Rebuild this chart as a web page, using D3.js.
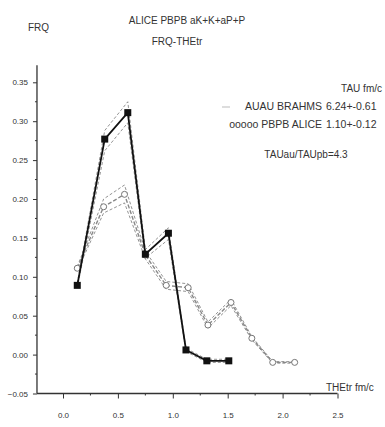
<!DOCTYPE html>
<html>
<head>
<meta charset="utf-8">
<script src="https://cdn.jsdelivr.net/npm/d3@7"></script>
<style>
  body { margin: 0; background: #fff; }
  svg { display: block; }
  text { font-family: "Liberation Sans Narrow", "Liberation Sans", Arial, sans-serif; fill: #333; }
  .axis path, .axis line { stroke: #333; }
</style>
</head>
<body>
<svg id="chart" width="385" height="427"></svg>
<script>
// THEtr (fm/c) bins and FRQ values
const thetaAuAu = [0.13, 0.38, 0.59, 0.75, 0.96, 1.12, 1.31, 1.51];
const frqAuAu = [0.089, 0.277, 0.311, 0.129, 0.156, 0.006, -0.008, -0.008];
const frqAuAuHi = [0.092, 0.288, 0.325, 0.135, 0.163, 0.008, -0.006, -0.006];
const frqAuAuLo = [0.086, 0.262, 0.298, 0.124, 0.148, 0.004, -0.010, -0.010];

const thetaPbPb = [0.13, 0.37, 0.56, 0.75, 0.94, 1.14, 1.32, 1.53, 1.72, 1.91, 2.11];
const frqPbPb = [0.111, 0.190, 0.206, 0.128, 0.089, 0.086, 0.038, 0.067, 0.021, -0.010, -0.010];
const frqPbPbHi = [0.113, 0.200, 0.218, 0.133, 0.094, 0.091, 0.042, 0.071, 0.023, -0.009, -0.009];
const frqPbPbLo = [0.108, 0.182, 0.195, 0.123, 0.084, 0.081, 0.034, 0.063, 0.019, -0.011, -0.011];

const yTicks = [-0.05, 0.00, 0.05, 0.10, 0.15, 0.20, 0.25, 0.30, 0.35];
const xTicks = [0.0, 0.5, 1.0, 1.5, 2.0, 2.5];

const svg = d3.select('#chart');

// scales, the axes cross at the lower left corner
const x = d3.scaleLinear().domain([0, 2.5]).range([63, 337.5]);
const y = d3.scaleLinear().domain([-0.05, 0.35]).range([393.5, 82.3]);
const xLeft = -0.237, yTop = 0.372;

// y axis
const yAxis = svg.append('g').attr('class', 'axis')
    .attr('transform', 'translate(' + x(xLeft) + ',0)')
    .call(d3.axisLeft(y).tickValues(yTicks).tickSize(4).tickFormat(d3.format('.2f')));
yAxis.select('.domain').remove();
yAxis.selectAll('text').attr('font-size', 8).attr('x', -9);
svg.append('g').selectAll('line')
    .data(d3.range(-0.025, 0.36, 0.05))
    .enter().append('line')
    .attr('x1', x(xLeft) - 2).attr('x2', x(xLeft))
    .attr('y1', d => y(d)).attr('y2', d => y(d))
    .attr('stroke', '#333');
svg.append('line')
    .attr('x1', x(xLeft)).attr('x2', x(xLeft))
    .attr('y1', y(-0.05)).attr('y2', y(yTop))
    .attr('stroke', '#333').attr('stroke-width', 1.3);

// x axis
const xAxis = svg.append('g').attr('class', 'axis')
    .attr('transform', 'translate(0,' + y(-0.05) + ')')
    .call(d3.axisBottom(x).tickValues(xTicks).tickSize(5).tickFormat(d3.format('.1f')));
xAxis.select('.domain').remove();
xAxis.selectAll('text').attr('font-size', 8).attr('y', 19);
svg.append('g').selectAll('line')
    .data(d3.range(0.25, 2.5, 0.5))
    .enter().append('line')
    .attr('x1', d => x(d)).attr('x2', d => x(d))
    .attr('y1', y(-0.05)).attr('y2', y(-0.05) + 2)
    .attr('stroke', '#333');
svg.append('line')
    .attr('x1', x(xLeft)).attr('x2', x(2.5))
    .attr('y1', y(-0.05)).attr('y2', y(-0.05))
    .attr('stroke', '#333').attr('stroke-width', 1.3);

const line = d3.line().x(d => x(d[0])).y(d => y(d[1]));
const pairs = (xs, ys) => xs.map((v, i) => [v, ys[i]]);

// error bands, thin dashed
[[thetaAuAu, frqAuAuHi], [thetaAuAu, frqAuAuLo], [thetaPbPb, frqPbPbHi], [thetaPbPb, frqPbPbLo]]
    .forEach(([xs, ys]) => {
        svg.append('path')
            .attr('d', line(pairs(xs, ys)))
            .attr('fill', 'none')
            .attr('stroke', '#777')
            .attr('stroke-width', 0.8)
            .attr('stroke-dasharray', '3,2');
    });

// PbPb ALICE, open circles
svg.append('path')
    .attr('d', line(pairs(thetaPbPb, frqPbPb)))
    .attr('fill', 'none')
    .attr('stroke', '#888')
    .attr('stroke-width', 1.4)
    .attr('stroke-dasharray', '4,2');
svg.selectAll('.circ')
    .data(pairs(thetaPbPb, frqPbPb))
    .enter().append('circle')
    .attr('class', 'circ')
    .attr('cx', d => x(d[0]))
    .attr('cy', d => y(d[1]))
    .attr('r', 3)
    .attr('fill', '#fff')
    .attr('stroke', '#777')
    .attr('stroke-width', 1);

// AuAu BRAHMS, black squares
svg.append('path')
    .attr('d', line(pairs(thetaAuAu, frqAuAu)))
    .attr('fill', 'none')
    .attr('stroke', '#111')
    .attr('stroke-width', 1.8);
svg.selectAll('.sq')
    .data(pairs(thetaAuAu, frqAuAu))
    .enter().append('rect')
    .attr('class', 'sq')
    .attr('x', d => x(d[0]) - 3.5)
    .attr('y', d => y(d[1]) - 3.5)
    .attr('width', 7)
    .attr('height', 7)
    .attr('fill', '#111');

// titles and labels
const txt = (tx, ty, s, size, anchor) => svg.append('text')
    .attr('x', tx).attr('y', ty)
    .attr('font-size', size)
    .attr('text-anchor', anchor || 'start')
    .text(s);

txt(28, 31, 'FRQ', 10);
txt(187, 24, 'ALICE  PBPB aK+K+aP+P', 10, 'middle');
txt(177, 45, 'FRQ-THEtr', 10, 'middle');
txt(382, 92, 'TAU fm/c', 10, 'end');
txt(322, 110, 'AUAU  BRAHMS', 10.5, 'end');
txt(326, 110, '6.24+-0.61', 10.5);
txt(322, 128, 'ooooo PBPB   ALICE', 10.5, 'end');
txt(326, 128, '1.10+-0.12', 10.5);
txt(306, 158, 'TAUau/TAUpb=4.3', 10, 'middle');
txt(326, 391, 'THEtr fm/c', 10);

svg.append('line')
    .attr('x1', 222).attr('x2', 230)
    .attr('y1', 107).attr('y2', 107)
    .attr('stroke', '#bbb');
</script>
</body>
</html>
